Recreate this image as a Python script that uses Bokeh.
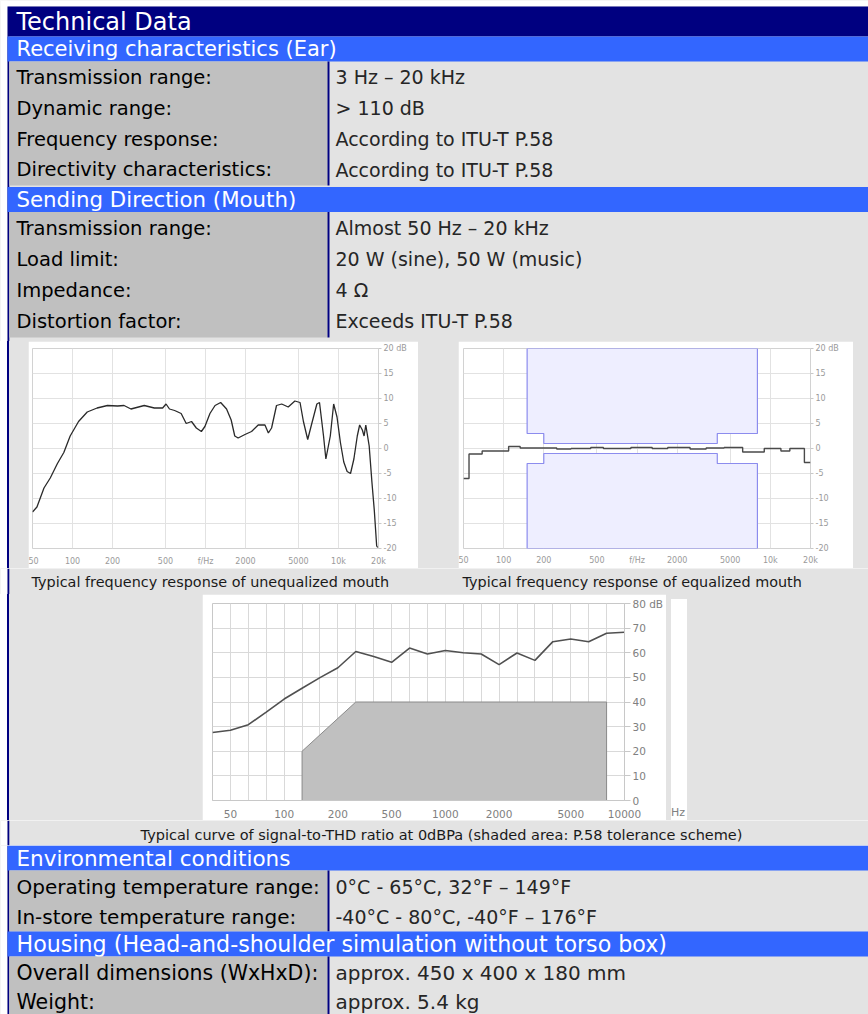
from bokeh.plotting import figure
from bokeh.layouts import row, column
from bokeh.models import Range1d, FixedTicker, Spacer, Div
from bokeh.embed import file_html
from bokeh.resources import INLINE
from bokeh.core.properties import value

# ---------------- data ----------------
title_text = "Technical Data"
ear_title = "Receiving characteristics (Ear)"
ear_labels = ["Transmission range:", "Dynamic range:", "Frequency response:", "Directivity characteristics:"]
ear_values = ["3 Hz \u2013 20 kHz", "> 110 dB", "According to ITU-T P.58", "According to ITU-T P.58"]
mouth_title = "Sending Direction (Mouth)"
mouth_labels = ["Transmission range:", "Load limit:", "Impedance:", "Distortion factor:"]
mouth_values = ["Almost 50 Hz \u2013 20 kHz", "20 W (sine), 50 W (music)", "4 \u03a9", "Exceeds ITU-T P.58"]
env_title = "Environmental conditions"
env_labels = ["Operating temperature range:", "In-store temperature range:"]
env_values = ["0\u00b0C - 65\u00b0C, 32\u00b0F \u2013 149\u00b0F", "-40\u00b0C - 80\u00b0C, -40\u00b0F \u2013 176\u00b0F"]
housing_title = "Housing (Head-and-shoulder simulation without torso box)"
housing_labels = ["Overall dimensions (WxHxD):", "Weight:"]
housing_values = ["approx. 450 x 400 x 180 mm", "approx. 5.4 kg"]

caption_unequalized = "Typical frequency response of unequalized mouth"
caption_equalized = "Typical frequency response of equalized mouth"
caption_thd = "Typical curve of signal-to-THD ratio at 0dBPa (shaded area: P.58 tolerance scheme)"

freq_ticks = [50, 100, 200, 500, 1000, 2000, 5000, 10000, 20000]
freq_tick_labels = ["50", "100", "200", "500", "f/Hz", "2000", "5000", "10k", "20k"]
db_ticks = [-20, -15, -10, -5, 0, 5, 10, 15, 20]
db_tick_labels = ["-20", "-15", "-10", "-5", "0", "5", "10", "15", "20 dB"]

unequalized_freq = [50, 54, 61, 68, 77, 86, 96, 111, 129, 153,
                    183, 218, 244, 275, 346, 412, 476, 505, 536, 586,
                    656, 716, 785, 853, 931, 990, 1080, 1180, 1300, 1440,
                    1560, 1660, 1760, 1980, 2220, 2490, 2800, 2970, 3140, 3420,
                    3740, 4190, 4700, 5140, 5450, 5870, 6300, 6880, 7200, 7720,
                    8040, 8680, 9200, 9750, 10340, 10960, 11620, 12320, 13060, 13850,
                    14430, 15120, 15580, 16050, 17020, 17830, 18600, 19380, 19730]
unequalized_db = [-12.7, -11.7, -7.9, -5.9, -3.0, -0.8, 2.5, 5.4, 7.3, 8.1,
                  8.6, 8.5, 8.6, 7.9, 8.6, 8.1, 8.1, 8.9, 7.9, 7.6,
                  7.0, 5.0, 5.4, 4.1, 3.4, 4.4, 7.0, 8.6, 9.2, 7.9,
                  5.7, 2.5, 2.1, 2.8, 3.4, 4.7, 4.7, 3.1, 4.1, 8.6,
                  8.9, 8.3, 9.5, 9.2, 5.4, 1.8, 5.0, 8.9, 9.2, 2.5,
                  -2.1, 2.5, 8.9, 6.3, 1.2, -2.7, -4.6, -5.0, -2.1, 2.5,
                  4.7, 3.7, 2.5, 4.7, 0.5, -6.6, -12.4, -19.5, -19.8]

equalized_freq = [50, 55, 69, 109, 133, 250, 320, 450, 560, 900, 1300,
                  1700, 2500, 3300, 4500, 6200, 9000, 12000, 14000, 18000, 20000]
equalized_db = [-6.0, -1.1, -0.5, 0.4, 0.1, -0.1, 0.0, 0.2, 0.0, 0.2, 0.0,
                0.2, -0.1, 0.1, 0.2, -0.7, 0.0, -0.5, 0.0, -2.8, -2.8]

mask_freq = [150, 150, 200, 200, 4000, 4000, 8000, 8000]
mask_upper_db = [20, 3, 3, 1, 1, 3, 3, 20]
mask_lower_db = [-20, -3, -3, -1, -1, -3, -3, -20]

thd_band = [0, 1, 2, 3, 4, 5, 6, 7, 8, 9, 10, 11, 12, 13, 14, 15, 16, 17, 18, 19, 20, 21, 22, 23]
thd_db = [27.6, 28.5, 30.8, 35.9, 41.2, 45.6, 49.9, 53.9, 60.5, 58.5, 56.1, 61.9,
          59.5, 60.9, 60.0, 59.5, 55.2, 59.9, 56.9, 64.5, 65.6, 64.5, 67.9, 68.3]
tol_band = [5, 5, 8, 22, 22]
tol_db = [0, 20, 40, 40, 0]
thd_tick_band = [1, 4, 7, 10, 13, 16, 20, 23]
thd_tick_labels = ["50", "100", "200", "500", "1000", "2000", "5000", "10000"]
thd_db_ticks = [0, 10, 20, 30, 40, 50, 60, 70, 80]
thd_db_labels = ["0", "10", "20", "30", "40", "50", "60", "70", "80 dB"]
thd_unit = "Hz"

# ---------------- style ----------------
FONT = "DejaVu Sans"
NAVY = "#000080"
BLUE = "#3366FF"
GRAY = "#C0C0C0"
LIGHT = "#E3E3E3"
W = 868
ROW_BG = {"background": "linear-gradient(to right, #ffffff 0px, #ffffff 7px, #000080 7px, "
                        "#000080 8.8px, #E3E3E3 8.8px, #E3E3E3 100%)",
          "overflow": "hidden"}


def panel(x0, x1, y0, y1):
    p = figure(width=x1 - x0, height=y1 - y0,
               x_range=Range1d(x0, x1), y_range=Range1d(y1, y0),
               x_axis_location=None, y_axis_location=None,
               toolbar_location=None, output_backend="svg",
               min_border=0, background_fill_color=LIGHT,
               border_fill_color=LIGHT, outline_line_color=None)
    p.grid.visible = False
    p.quad(left=0, right=7, top=y0, bottom=y1, color="white", line_color=None)
    p.quad(left=7, right=8.8, top=max(y0, 36), bottom=y1, color=NAVY, line_color=None)
    return p


def txt(p, xs, ys, texts, size, color, align="left"):
    p.text(x=xs, y=ys, text=texts, text_font=value(FONT), text_font_size=size,
           text_color=color, text_baseline="middle", text_align=align)


def band(p, y0, y1, color, text, size, ty):
    p.quad(left=7, right=W, top=y0, bottom=y1, color=color, line_color=None)
    txt(p, [16], [ty], [text], size, "white")


def rows_block(p, y0, y1, ys, labels, values, lsize, vsize):
    p.quad(left=8.8, right=327, top=y0, bottom=y1, color=GRAY, line_color=None)
    p.quad(left=327, right=329, top=y0, bottom=y1, color=NAVY, line_color=None)
    txt(p, [16] * len(labels), ys, labels, lsize, "#000000")
    txt(p, [335] * len(values), ys, values, vsize, "#262626")


# ---------------- top table ----------------
top = panel(0, W, 0, 341)
top.quad(left=0, right=W, top=0, bottom=6, color="white", line_color=None)
band(top, 6, 36, NAVY, title_text, "24px", 21.5)
band(top, 36, 61, BLUE, ear_title, "21px", 48.5)
rows_block(top, 61, 185, [76.5, 107.5, 138.5, 169], ear_labels, ear_values, "19.5px", "19px")
band(top, 186.5, 211.5, BLUE, mouth_title, "21.3px", 199)
rows_block(top, 211.5, 337, [227.5, 258.5, 289.5, 320.5], mouth_labels, mouth_values, "19.5px", "19px")


# ---------------- frequency charts ----------------
def freq_chart(w, h, bl, br, bt, bb, standoff):
    p = figure(width=w, height=h, x_axis_type="log",
               x_range=Range1d(50, 20000), y_range=Range1d(-20, 20),
               y_axis_location="right", toolbar_location=None, output_backend="svg",
               min_border_left=bl, min_border_right=br, min_border_top=bt,
               min_border_bottom=bb, background_fill_color="white",
               border_fill_color="white", outline_line_color="#D2D2D2")
    p.xaxis.ticker = FixedTicker(ticks=freq_ticks)
    p.xgrid.ticker = FixedTicker(ticks=freq_ticks)
    p.xaxis.major_label_overrides = dict(zip(freq_ticks, freq_tick_labels))
    p.yaxis.ticker = FixedTicker(ticks=db_ticks)
    p.ygrid.ticker = FixedTicker(ticks=db_ticks)
    p.yaxis.major_label_overrides = dict(zip(db_ticks, db_tick_labels))
    p.grid.grid_line_color = "#E2E2E2"
    for ax in p.axis:
        ax.major_label_text_font = FONT
        ax.major_label_text_font_size = "8px"
        ax.major_label_text_color = "#9A9A9A"
        ax.minor_tick_line_color = None
        ax.axis_line_color = None
    p.xaxis.major_tick_line_color = None
    p.xaxis.major_label_standoff = standoff
    p.yaxis.major_tick_line_color = "#C8C8C8"
    p.yaxis.major_tick_out = 3
    p.yaxis.major_tick_in = 0
    p.yaxis.major_label_standoff = 2
    return p


c1 = freq_chart(390, 227, 4, 40, 7, 13, 2)
c1.line(unequalized_freq, unequalized_db, line_color="#2A2A2A", line_width=1.3)

c2 = freq_chart(395, 227, 5, 43, 6, 12, 1)
c2.patch(mask_freq, mask_upper_db, fill_color="#EEEEFF", line_color="#8C8CEE", line_width=1.2)
c2.patch(mask_freq, mask_lower_db, fill_color="#EEEEFF", line_color="#8C8CEE", line_width=1.2)
c2.step(equalized_freq, equalized_db, mode="after", line_color="#4A4A4A", line_width=1.4)

row1 = row(Spacer(width=28, height=227), c1, Spacer(width=40, height=227), c2,
           Spacer(width=15, height=227), height=227, styles=ROW_BG)

cap12 = panel(0, W, 568, 594)
txt(cap12, [31], [581], [caption_unequalized], "14.4px", "#1A1A1A")
txt(cap12, [462], [581], [caption_equalized], "14.4px", "#1A1A1A")

# ---------------- THD chart ----------------
c3 = figure(width=464, height=226, x_range=Range1d(0, 23), y_range=Range1d(0, 80),
            y_axis_location="right", toolbar_location=None, output_backend="svg",
            min_border_left=10, min_border_right=40, min_border_top=9, min_border_bottom=17,
            background_fill_color="white", border_fill_color="white",
            outline_line_color="#C8C8C8")
c3.xaxis.ticker = FixedTicker(ticks=thd_tick_band)
c3.xgrid.ticker = FixedTicker(ticks=thd_band)
c3.xaxis.major_label_overrides = dict(zip(thd_tick_band, thd_tick_labels))
c3.yaxis.ticker = FixedTicker(ticks=thd_db_ticks)
c3.ygrid.ticker = FixedTicker(ticks=thd_db_ticks)
c3.yaxis.major_label_overrides = dict(zip(thd_db_ticks, thd_db_labels))
c3.grid.grid_line_color = "#D9D9D9"
for ax in c3.axis:
    ax.major_label_text_font = FONT
    ax.major_label_text_font_size = "10.5px"
    ax.major_label_text_color = "#808080"
    ax.minor_tick_line_color = None
    ax.axis_line_color = "#C8C8C8"
c3.xaxis.major_tick_line_color = None
c3.xaxis.major_label_standoff = 3
c3.yaxis.major_tick_line_color = "#C8C8C8"
c3.yaxis.major_tick_out = 6
c3.yaxis.major_tick_in = 0
c3.yaxis.major_label_standoff = 2
c3.patch(tol_band, tol_db, fill_color="#C0C0C0", line_color="#8A8A8A", line_width=1)
c3.line(thd_band, thd_db, line_color="#505050", line_width=1.6)

hz = Div(text=thd_unit, width=16, height=226,
         styles={"background-color": "white", "overflow": "hidden",
                 "font-family": FONT, "font-size": "11px", "line-height": "12px",
                 "color": "#808080", "display": "flex", "align-items": "flex-end",
                 "padding-bottom": "6px", "box-sizing": "border-box"})

row2 = row(Spacer(width=202, height=226), c3, hz, Spacer(width=186, height=226),
           height=226, styles=ROW_BG)

cap3 = panel(0, W, 820, 845)
txt(cap3, [441], [834.5], [caption_thd], "14.5px", "#1A1A1A", align="center")

# ---------------- bottom table ----------------
bottom = panel(0, W, 845, 1014)
band(bottom, 845, 870, BLUE, env_title, "21.5px", 857.5)
rows_block(bottom, 870, 931, [886.5, 916.5], env_labels, env_values, "20px", "19px")
band(bottom, 931, 956, BLUE, housing_title, "22.2px", 943.5)
rows_block(bottom, 956, 1014, [972.5, 1001], housing_labels, housing_values, "20.5px", "20px")

layout = column(top, row1, cap12, row2, cap3, bottom)
open("out.html", "w").write(file_html(layout, INLINE))
